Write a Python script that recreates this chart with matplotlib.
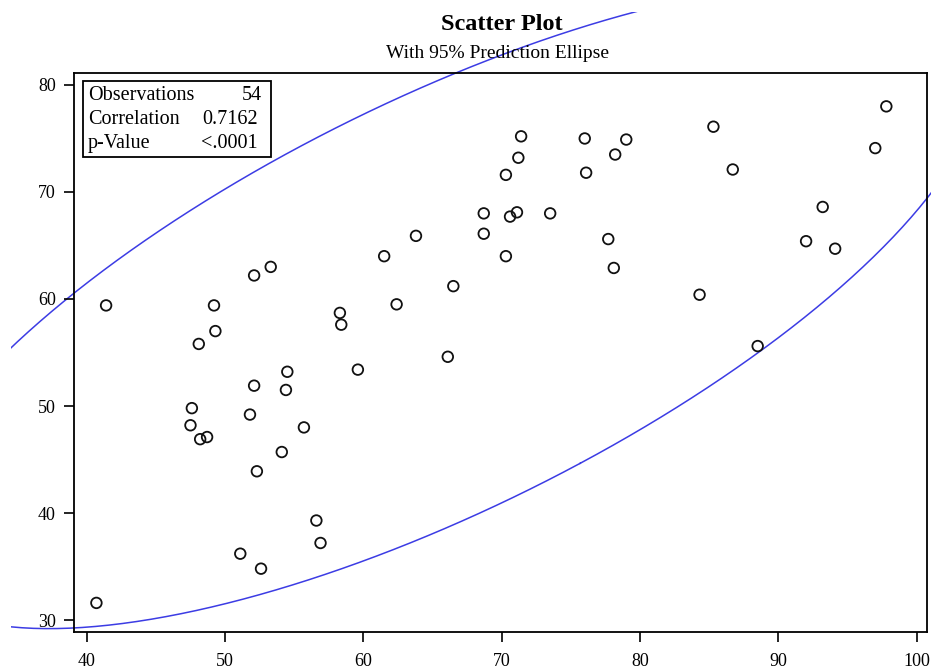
import numpy as np
import matplotlib
matplotlib.use("Agg")
import matplotlib.pyplot as plt
from matplotlib.transforms import Bbox, TransformedBbox

# --- données ---
x_vals = [41.4, 49.2, 49.3, 48.1, 52.1, 53.3, 58.3, 58.4, 59.6, 54.5,
          52.1, 54.4, 47.6, 51.8, 55.7, 47.5, 48.2, 48.7, 54.1, 52.3,
          56.6, 56.9, 51.1, 52.6, 40.7,
          71.4, 76.0, 79.0, 71.2, 78.2, 70.3, 76.1, 68.7, 71.1, 70.6,
          73.5, 68.7, 63.8, 61.5, 70.3, 77.7, 78.1, 66.5, 62.4, 66.1,
          97.8, 85.3, 97.0, 86.7, 93.2, 92.0, 94.1, 84.3, 88.5]
y_vals = [59.4, 59.4, 57.0, 55.8, 62.2, 63.0, 58.7, 57.6, 53.4, 53.2,
          51.9, 51.5, 49.8, 49.2, 48.0, 48.2, 46.9, 47.1, 45.7, 43.9,
          39.3, 37.2, 36.2, 34.8, 31.6,
          75.2, 75.0, 74.9, 73.2, 73.5, 71.6, 71.8, 68.0, 68.1, 67.7,
          68.0, 66.1, 65.9, 64.0, 64.0, 65.6, 62.9, 61.2, 59.5, 54.6,
          78.0, 76.1, 74.1, 72.1, 68.6, 65.4, 64.7, 60.4, 55.6]

stat_labels = ["Observations", "Correlation", "p-Value"]
stat_values = ["54", "0.7162", "<.0001"]

x_ticks = [40, 50, 60, 70, 80, 90, 100]
y_ticks = [30, 40, 50, 60, 70, 80]

# F(0.95; 2, n-2) pour n = 54 (pas de scipy)
f_quantile = 3.175

plt.rcParams['font.family'] = ['Liberation Serif', 'DejaVu Serif']

W, H = 931, 668
fig = plt.figure(figsize=(W / 100, H / 100), dpi=100)
left, right, top, bottom = 74, 927, 73.3, 631.7
ax = fig.add_axes([left / W, 1 - bottom / H, (right - left) / W, (bottom - top) / H])

# ellipse de prédiction à 95 %
pts = np.column_stack([x_vals, y_vals])
n = len(pts)
mean = pts.mean(axis=0)
cov = np.cov(pts, rowvar=False)
c2 = 2 * (n - 1) * (n + 1) / (n * (n - 2)) * f_quantile
evals, evecs = np.linalg.eigh(cov)
t = np.linspace(0, 2 * np.pi, 400)
circle = np.vstack([np.cos(t), np.sin(t)])
ell = (evecs @ np.diag(np.sqrt(evals * c2)) @ circle).T + mean
line, = ax.plot(ell[:, 0], ell[:, 1], color='#3c3ce4', lw=1.1, zorder=1)
line.set_clip_box(TransformedBbox(Bbox.from_extents(11 / W, 0, 1, 1 - 12 / H), fig.transFigure))

ax.scatter(x_vals, y_vals, s=58, facecolors='none', edgecolors='#111111', linewidths=1.3, zorder=3)

ax.set_xlim(39.08, 100.74)
ax.set_ylim(28.91, 81.09)
ax.set_xticks(x_ticks)
ax.set_yticks(y_ticks)
ax.tick_params(direction='out', length=7.2, width=1.2, labelsize=13)
ax.tick_params(axis='x', pad=8)
ax.tick_params(axis='y', pad=6)
for s in ax.spines.values():
    s.set_linewidth(1.3)

# titres
fig.text(502 / W, 1 - 25 / H, "Scatter Plot", ha='center', va='center', fontsize=17.5, fontweight='bold')
fig.text(498 / W, 1 - 53 / H, "With 95% Prediction Ellipse", ha='center', va='center', fontsize=14)

# encadré des statistiques
box = plt.Rectangle((82.7 / W, 1 - 156.7 / H), (270.7 - 82.7) / W, (156.7 - 81) / H,
                    transform=fig.transFigure, fill=False, edgecolor='black', lw=1.3, zorder=5)
fig.add_artist(box)
rows_y = [95, 119.5, 143.5]
val_x = [262, 258, 258]
for lab, val, yy, vx in zip(stat_labels, stat_values, rows_y, val_x):
    fig.text(88 / W, 1 - yy / H, lab, ha='left', va='center', fontsize=14.5)
    fig.text(vx / W, 1 - yy / H, val, ha='right', va='center', fontsize=14.5)

fig.savefig("out.png", dpi=100)
